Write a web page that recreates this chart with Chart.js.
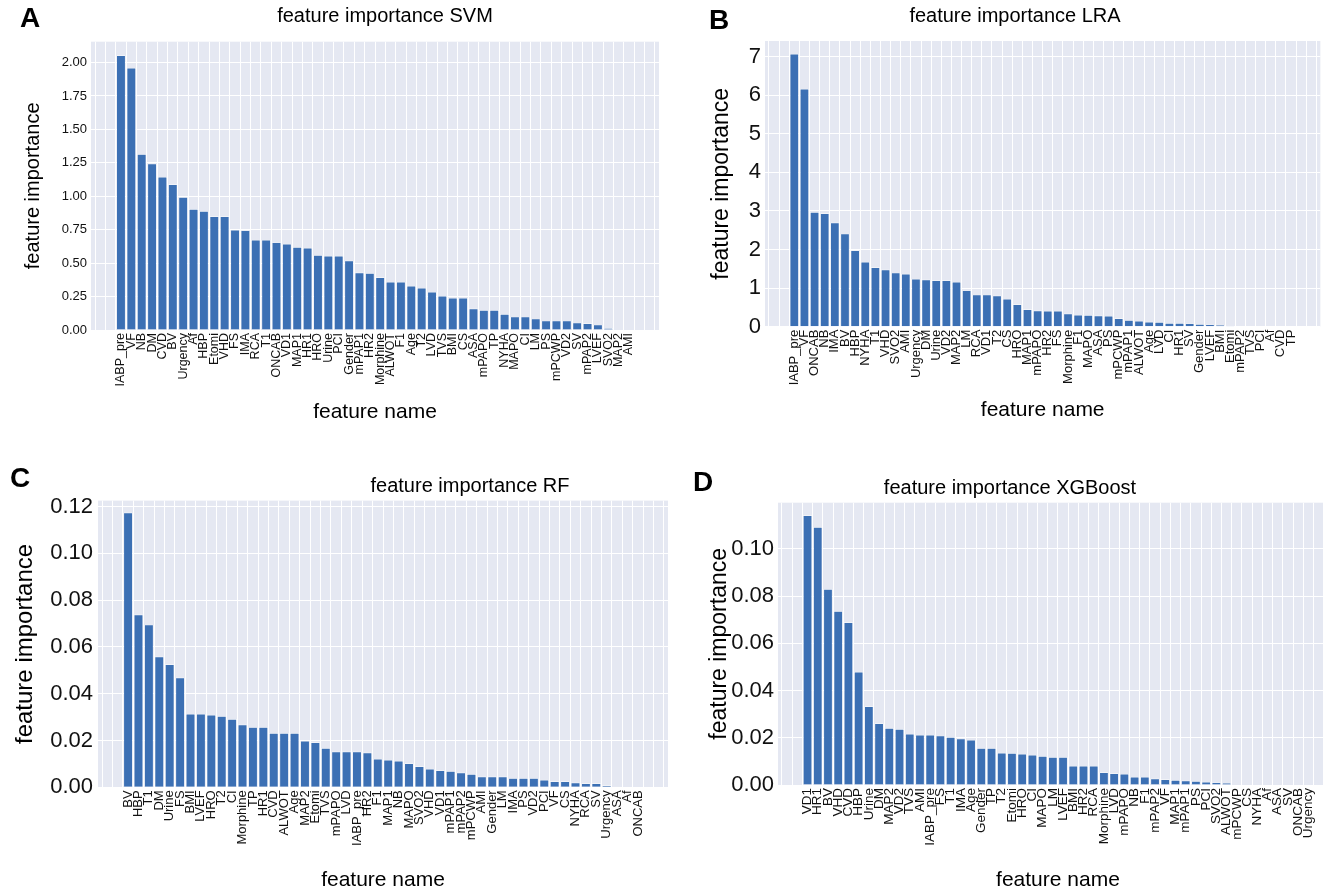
<!DOCTYPE html>
<html><head><meta charset="utf-8">
<script src="https://cdn.jsdelivr.net/npm/chart.js@4.4.1/dist/chart.umd.min.js"></script>
<style>
html,body{margin:0;padding:0;width:1323px;height:890px;overflow:hidden;background:#fff;}
canvas{position:absolute;}
.lbl{position:absolute;font-family:"Liberation Sans",Arial,sans-serif;font-weight:bold;font-size:28px;line-height:1;color:#000;}
</style></head><body>
<canvas id="cA"></canvas>
<canvas id="cB"></canvas>
<canvas id="cC"></canvas>
<canvas id="cD"></canvas>
<div class="lbl" style="left:20px;top:4px">A</div>
<div class="lbl" style="left:709px;top:6px">B</div>
<div class="lbl" style="left:10px;top:464px">C</div>
<div class="lbl" style="left:693px;top:468px">D</div>
<script>
// ---- data ----
const svmNames = ["IABP_pre","VF","NB","DM","CVD","BV","Urgency","Af","HBP","Etomi","VHD","FS","IMA","RCA","T1","ONCAB","VD1","MAP1","HR1","HRO","Urine","PCI","Gender","mPAP1","HR2","Morphine","ALWOT","F1","Age","T2","LVD","TVS","BMI","CS","ASA","mPAPO","TP","NYHA","MAPO","CI","LM","PS","mPCWP","VD2","SV","mPAP2","LVEF","SVO2","MAP2","AMI"];
const svmValues = [2.055,1.96,1.315,1.245,1.145,1.09,0.995,0.905,0.89,0.85,0.85,0.75,0.745,0.675,0.675,0.655,0.645,0.62,0.615,0.56,0.555,0.555,0.52,0.43,0.425,0.395,0.36,0.36,0.33,0.315,0.285,0.255,0.24,0.24,0.16,0.15,0.15,0.12,0.10,0.10,0.085,0.07,0.07,0.07,0.055,0.05,0.04,0.015,0.004,0];

const lraNames = ["IABP_pre","VF","ONCAB","NB","IMA","BV","HBP","NYHA","T1","VHD","SVO2","AMI","Urgency","DM","Urine","VD2","MAP2","LM","RCA","VD1","T2","CS","HRO","MAP1","mPAPO","HR2","FS","Morphine","F1","MAPO","ASA","PS","mPCWP","mPAP1","ALWOT","Age","LVD","CI","HR1","SV","Gender","LVEF","BMI","Etomi","mPAP2","TVS","PCI","Af","CVD","TP"];
const lraValues = [7.07,6.16,2.97,2.94,2.70,2.41,1.98,1.68,1.54,1.48,1.40,1.37,1.24,1.22,1.20,1.20,1.16,0.94,0.83,0.83,0.81,0.72,0.58,0.45,0.42,0.41,0.41,0.34,0.31,0.30,0.29,0.28,0.22,0.17,0.15,0.13,0.12,0.095,0.095,0.086,0.07,0.06,0.05,0.02,0,0,0,0,0,0];

const rfNames = ["BV","HBP","T1","DM","Urine","FS","BMI","LVEF","HRO","T2","CI","Morphine","TP","HR1","CVD","ALWOT","Age","MAP2","Etomi","TVS","mPAPO","LVD","IABP_pre","HR2","F1","MAP1","NB","MAPO","SVO2","VHD","VD1","mPAP1","mPAP2","mPCWP","AMI","Gender","LM","IMA","PS","VD2","PCI","VF","CS","NYHA","RCA","SV","Urgency","ASA","Af","ONCAB"];
const rfValues = [0.1174,0.0738,0.0695,0.0559,0.0526,0.0469,0.0314,0.0314,0.031,0.0304,0.0292,0.0268,0.0257,0.0257,0.0232,0.0232,0.0232,0.0199,0.0192,0.0168,0.0153,0.0153,0.0153,0.0149,0.0122,0.0118,0.0113,0.0103,0.009,0.0079,0.0073,0.0069,0.0063,0.0057,0.0046,0.0046,0.0046,0.0039,0.0039,0.0039,0.0032,0.0026,0.0026,0.002,0.0017,0.0017,0.0009,0.0003,0,0];

const xgbNames = ["VD1","HR1","BV","VHD","CVD","HBP","Urine","DM","MAP2","VD2","TVS","AMI","IABP_pre","FS","T1","IMA","Age","Gender","TP","T2","Etomi","HRO","CI","MAPO","LM","LVEF","BMI","HR2","RCA","Morphine","LVD","mPAPO","NB","F1","mPAP2","VF","MAP1","mPAP1","PS","PCI","SVO2","ALWOT","mPCWP","CS","NYHA","Af","ASA","SV","ONCAB","Urgency"];
const xgbValues = [0.1142,0.1092,0.083,0.0736,0.0689,0.0479,0.0333,0.0261,0.0241,0.0237,0.0217,0.0213,0.0213,0.0209,0.0203,0.0197,0.0191,0.0156,0.0156,0.0136,0.0135,0.0132,0.0128,0.0123,0.0118,0.0118,0.0081,0.0081,0.0081,0.0054,0.005,0.0047,0.0035,0.0035,0.0027,0.0024,0.0021,0.0019,0.0017,0.0014,0.0011,0.0009,0,0,0,0,0,0,0,0];

// ---- style ----
const FONT = '"Liberation Sans", Arial, sans-serif';
const BAR = '#3c70b4';
const BG = '#e5e8f2';

const bgPlugin = {
  id: 'bgPlugin',
  beforeDraw(chart) {
    const a = chart.chartArea, ctx = chart.ctx;
    ctx.save();
    ctx.fillStyle = BG;
    ctx.fillRect(a.left, a.top, a.right - a.left, a.bottom - a.top);
    ctx.restore();
  }
};

function makeChart(p) {
  const cv = document.getElementById(p.id);
  cv.width = p.width; cv.height = p.height;
  cv.style.left = p.left + 'px'; cv.style.top = p.top + 'px';
  const n = p.names.length;
  new Chart(cv, {
    type: 'bar',
    data: {
      datasets: [{
        data: p.names.map((name, i) => ({x: i, y: p.values[i]})),
        backgroundColor: BAR,
        borderColor: 'rgba(255,255,255,0.85)',
        borderWidth: 0.7,
        barPercentage: 0.9,
        categoryPercentage: 1.0
      }]
    },
    options: {
      responsive: false, animation: false, devicePixelRatio: 1,
      layout: {padding: 0},
      plugins: {
        legend: {display: false}, tooltip: {enabled: false},
        title: {display: true, text: p.title, color: '#000',
          font: {family: FONT, size: p.titleSize, weight: 'normal', lineHeight: 1.2},
          padding: {top: p.titlePadTop, bottom: p.titlePadBottom}}
      },
      scales: {
        x: {
          type: 'linear', min: -2.89, max: n + 1.89, offset: false,
          grid: {color: '#ffffff', lineWidth: 1, drawTicks: false},
          border: {display: false},
          ticks: {stepSize: 1, autoSkip: false, includeBounds: false, maxRotation: 90, minRotation: 90,
            padding: 3, color: '#111', font: {family: FONT, size: p.xTickSize},
            callback: (v) => (p.names[v] !== undefined ? p.names[v] : '')},
          title: {display: true, text: 'feature name', color: '#000',
            font: {family: FONT, size: 21, lineHeight: 1.2}, padding: {top: 0, bottom: p.xTitlePad}},
          afterFit: (s) => { s.height = p.xAxisHeight; }
        },
        y: {
          type: 'linear', position: 'left', min: 0, max: p.yMax,
          grid: {color: '#ffffff', lineWidth: 1, drawTicks: false},
          border: {display: false},
          ticks: {stepSize: p.yStep, includeBounds: false, padding: p.yTickPad, color: '#111',
            font: {family: FONT, size: p.yTickSize},
            callback: (v) => v.toFixed(p.yDec)},
          title: {display: true, text: 'feature importance', color: '#000',
            font: {family: FONT, size: p.yTitleSize, lineHeight: 1.2}, padding: {top: p.yTitlePad, bottom: 0}},
          afterFit: (s) => { s.width = p.yAxisWidth; }
        },
        spacer: {
          type: 'linear', position: 'right', display: true,
          grid: {display: false}, border: {display: false}, ticks: {display: false},
          afterFit: (s) => { s.width = p.rightGap; }
        }
      }
    },
    plugins: [bgPlugin]
  });
}

makeChart({id: 'cA', names: svmNames, values: svmValues, title: 'feature importance SVM',
  left: 0, top: 0, width: 770, height: 440, yAxisWidth: 91, rightGap: 111, xAxisHeight: 110,
  titleSize: 20, titlePadTop: 4, titlePadBottom: 13.7, xTitlePad: 15.4,
  yMax: 2.156, yStep: 0.25, yDec: 2, yTickSize: 13, yTickPad: 4, xTickSize: 12.5,
  yTitleSize: 20, yTitlePad: 21});

makeChart({id: 'cB', names: lraNames, values: lraValues, title: 'feature importance LRA',
  left: 700, top: 0, width: 630, height: 440, yAxisWidth: 65, rightGap: 4, xAxisHeight: 113.3,
  titleSize: 20, titlePadTop: 4, titlePadBottom: 13, xTitlePad: 17.4,
  yMax: 7.4, yStep: 1, yDec: 0, yTickSize: 22, yTickPad: 4, xTickSize: 13,
  yTitleSize: 23, yTitlePad: 8.2});

makeChart({id: 'cC', names: rfNames, values: rfValues, title: 'feature importance RF',
  left: 0, top: 450, width: 940, height: 450, yAxisWidth: 98, rightGap: 272, xAxisHeight: 112.7,
  titleSize: 20, titlePadTop: 24, titlePadBottom: 2.6, xTitlePad: 7.4,
  yMax: 0.1225, yStep: 0.02, yDec: 2, yTickSize: 22, yTickPad: 5, xTickSize: 13,
  yTitleSize: 24, yTitlePad: 10.6});

makeChart({id: 'cD', names: xgbNames, values: xgbValues, title: 'feature importance XGBoost',
  left: 672, top: 450, width: 676, height: 450, yAxisWidth: 106, rightGap: 0, xAxisHeight: 115,
  titleSize: 20, titlePadTop: 26, titlePadBottom: 2.7, xTitlePad: 7.4,
  yMax: 0.1195, yStep: 0.02, yDec: 2, yTickSize: 22, yTickPad: 4, xTickSize: 13.5,
  yTitleSize: 23, yTitlePad: 34.2});
</script>
</body></html>
